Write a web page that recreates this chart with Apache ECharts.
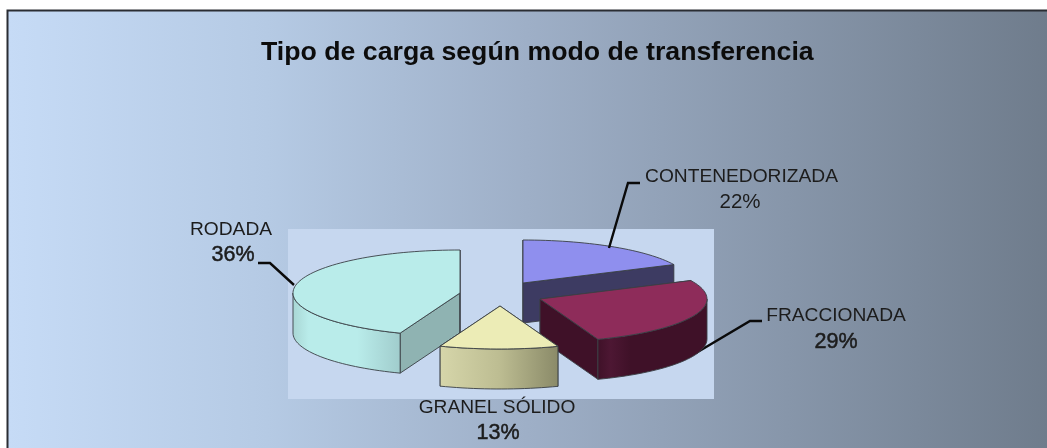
<!DOCTYPE html>
<html><head><meta charset="utf-8">
<style>html,body{margin:0;padding:0;background:#fff}#c{width:1047px;height:448px}</style>
<script src="https://cdn.jsdelivr.net/npm/echarts@6/dist/echarts.min.js"></script>
</head><body><div id="c"></div>
<script>
const chartTitle = 'Tipo de carga según modo de transferencia';
const categories = ['CONTENEDORIZADA', 'FRACCIONADA', 'GRANEL SÓLIDO', 'RODADA'];
const shares = [22, 29, 13, 36];

// Layout, in pixels inside the plot rectangle
const PLOT = {left: 288, top: 229, width: 426, height: 170};
const RX = 167, RY = 43, DEPTH = 40;
const apex = [[235, 54], [252, 70], [212, 77], [172, 64]];
const zOrder = [1, 3, 4, 2];
// The reference's tilted view compresses angles unevenly: cumulative share -> drawn angle
const viewShare = [0, 22, 51, 64, 100];
const viewAngle = [0, 64.6, 159.7, 201, 360];

const topColor = ['#8f8fee', '#8e2c5a', '#ececb6', '#b9ecea'];
const cutColor = ['#3d3b62', '#3f1128', '#8a8a68', '#8fb3b2'];
const wallStops = [
  [[0, '#3d3b62'], [1, '#3d3b62']],
  [[0, '#3f1128'], [0.12, '#4d1733'], [0.3, '#3f1128'], [1, '#3f1128']],
  [[0, '#d6d6aa'], [0.5, '#bdbd92'], [1, '#8a8a68']],
  [[0, '#a8d6d4'], [0.15, '#b9ecea'], [0.6, '#b9ecea'], [1, '#a0cccc']]
];
const labelPos = [
  {name: [741.5, 177], pct: [740, 202], size: 20.5, bold: 0},
  {name: [836, 316], pct: [836, 342], size: 21.5, bold: 0.5},
  {name: [497, 408], pct: [498, 433], size: 21.5, bold: 0.5},
  {name: [231, 230], pct: [233, 255], size: 21.5, bold: 0.5}
];
const leaders = [
  [[640, 183], [628, 183], [609, 248]],
  [[762, 321], [750, 321], [696, 353]],
  [],
  [[258, 263], [270, 263], [294, 285]]
];
const EDGE = '#3a3f45', FONT = '"Liberation Sans", Arial, sans-serif', INK = '#1c1c1c';

function shareToAngle(s) {
  for (let i = 1; i < viewShare.length; i++) {
    if (s <= viewShare[i]) {
      return echarts.number.linearMap(s, [viewShare[i - 1], viewShare[i]], [viewAngle[i - 1], viewAngle[i]]);
    }
  }
  return 360;
}

function renderSlice(params, api) {
  const i = params.dataIndex;
  const value = api.value(1);
  const before = shares.slice(0, i).reduce((a, b) => a + b, 0);
  const a0 = shareToAngle(before), a1 = shareToAngle(before + value);
  const ax = apex[i][0], ay = apex[i][1];
  const pt = (deg, drop) => {
    const r = deg * Math.PI / 180;
    return api.coord([ax + RX * Math.sin(r), ay - RY * Math.cos(r) + drop]);
  };
  const arc = (from, to, drop) => {
    const out = [], n = Math.max(2, Math.ceil(Math.abs(to - from) / 2));
    for (let k = 0; k <= n; k++) out.push(pt(from + (to - from) * k / n, drop));
    return out;
  };
  const c0 = api.coord([ax, ay]), c1 = api.coord([ax, ay + DEPTH]);
  const z = zOrder[i] * 10;
  const face = (points, fill, dz) => ({
    type: 'polygon', z2: z + dz, shape: {points},
    style: {fill, stroke: EDGE, lineWidth: 0.9, lineJoin: 'round'}
  });
  const kids = [];
  // radial cut faces
  kids.push(face([c0, pt(a0, 0), pt(a0, DEPTH), c1], cutColor[i], 0));
  kids.push(face([c0, pt(a1, 0), pt(a1, DEPTH), c1], cutColor[i], 1));
  // visible outer wall (front half of the rim)
  const w0 = Math.max(a0, 90), w1 = Math.min(a1, 270);
  if (w1 > w0) {
    kids.push(face(arc(w0, w1, 0).concat(arc(w1, w0, DEPTH)), {
      type: 'linear', x: 0, y: 0, x2: 1, y2: 0,
      colorStops: wallStops[i].map(s => ({offset: s[0], color: s[1]}))
    }, 2));
  }
  // top face
  kids.push(face([c0].concat(arc(a0, a1, 0)), topColor[i], 3));
  // leader line (the FRACCIONADA one passes behind its slice)
  if (leaders[i].length) {
    kids.push({
      type: 'polyline', z2: i === 1 ? z - 1 : 60, shape: {points: leaders[i]},
      style: {fill: 'none', stroke: '#0a0a0a', lineWidth: 2.4}
    });
  }
  // labels
  kids.push({
    type: 'text', z2: 70, x: labelPos[i].name[0], y: labelPos[i].name[1],
    style: {text: api.value(2), font: '19.2px ' + FONT, fill: INK, align: 'center', verticalAlign: 'middle'}
  });
  kids.push({
    type: 'text', z2: 70, x: labelPos[i].pct[0], y: labelPos[i].pct[1],
    style: {
      text: value + '%', font: labelPos[i].size + 'px ' + FONT, fill: INK, align: 'center', verticalAlign: 'middle',
      stroke: labelPos[i].bold ? INK : null, lineWidth: labelPos[i].bold
    }
  });
  return {type: 'group', children: kids};
}

const chart = echarts.init(document.getElementById('c'), null, {renderer: 'canvas'});
chart.setOption({
  animation: false,
  backgroundColor: '#ffffff',
  title: {
    text: chartTitle, left: 256, top: 34,
    textStyle: {fontFamily: FONT, fontSize: 26.7, fontWeight: 'bold', color: '#0c0c0c'}
  },
  graphic: [{
    type: 'rect', z: -10, silent: true,
    shape: {x: 8, y: 11, width: 1039, height: 437},
    style: {
      fill: {type: 'linear', x: 0, y: 0, x2: 1, y2: 0, colorStops: [
        {offset: 0, color: '#c6dbf6'},
        {offset: 0.25, color: '#b5cae4'},
        {offset: 0.5, color: '#9eafc7'},
        {offset: 0.75, color: '#8796aa'},
        {offset: 1, color: '#6f7c8c'}
      ]}
    }
  }, {
    type: 'polyline', z: -9, silent: true,
    shape: {points: [[7.5, 448], [7.5, 10.5], [1047, 10.5]]},
    style: {fill: 'none', stroke: '#2a2d33', lineWidth: 2}
  }],
  grid: {
    show: true, left: PLOT.left, top: PLOT.top, width: PLOT.width, height: PLOT.height,
    backgroundColor: '#c6d7ef', borderWidth: 0, containLabel: false
  },
  xAxis: {type: 'value', min: 0, max: PLOT.width, show: false},
  yAxis: {type: 'value', min: 0, max: PLOT.height, inverse: true, show: false},
  series: [{
    type: 'custom',
    coordinateSystem: 'cartesian2d',
    clip: false,
    silent: true,
    renderItem: renderSlice,
    encode: {x: 0, y: 1},
    data: shares.map((v, i) => [i, v, categories[i]])
  }]
});
</script></body></html>
